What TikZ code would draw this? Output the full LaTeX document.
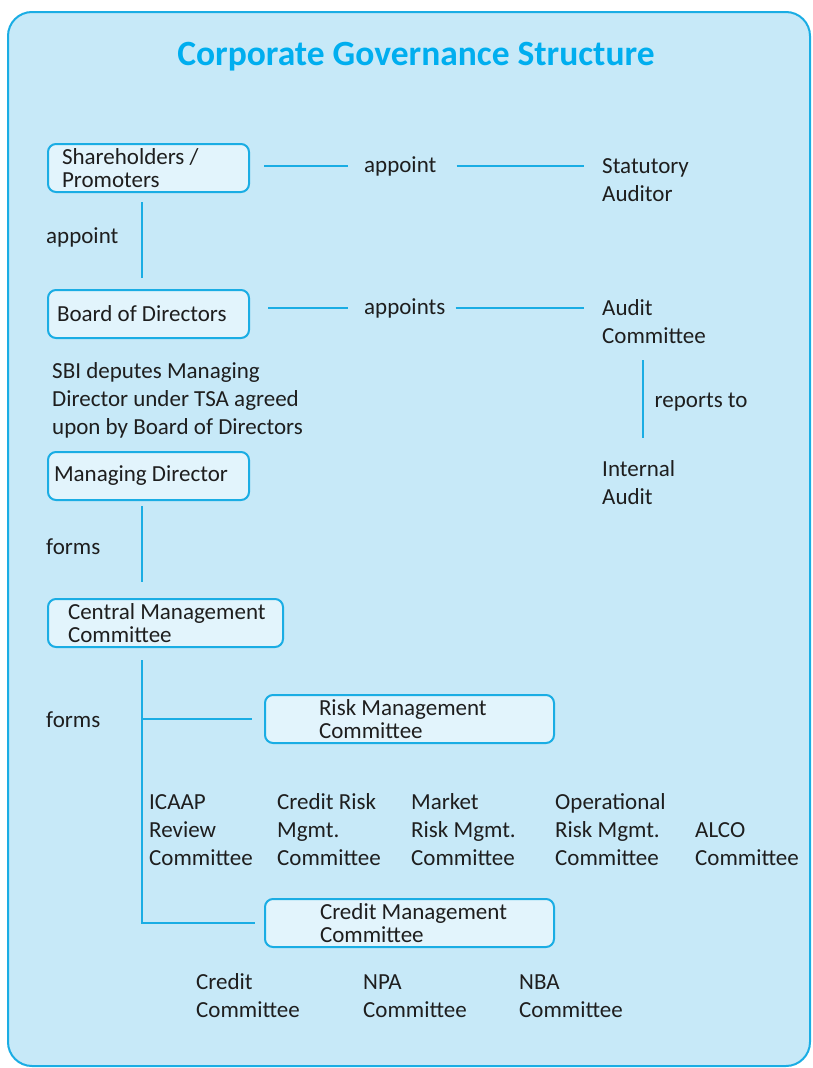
\documentclass[tikz,border=0pt]{standalone}
\usepackage{fontspec}
\setmainfont{Carlito}
\usetikzlibrary{positioning}

\definecolor{govcyan}{HTML}{1AADE4}
\definecolor{govtitle}{HTML}{00AEEF}
\definecolor{govback}{HTML}{C7E9F8}
\definecolor{govfill}{HTML}{E2F4FC}
\definecolor{govtext}{HTML}{1E1E1E}

\begin{document}
\begin{tikzpicture}[x=1pt,y=-1pt,
  every node/.style={inner sep=0pt,text=govtext,font=\fontsize{23}{28}\selectfont}]
\tikzset{GovBox/.style 2 args={draw=govcyan,fill=govfill,line width=2pt,
                               rounded corners=8pt,anchor=north west,
                               minimum height=48pt,align=flush left,
                               inner xsep=#1,text width=#2,
                               font=\fontsize{23}{23}\selectfont},
         GovText/.style={anchor=west,align=left},
         GovLine/.style={draw=govcyan,line width=2pt}}

\useasboundingbox (0,0) rectangle (812,1068);
\draw[govcyan,fill=govback,line width=2pt,rounded corners=24pt] (8,12) rectangle (810,1066);

\node[font=\fontsize{35.5}{40}\selectfont\bfseries,text=govtitle] (title) at (416,57)
     {Corporate Governance Structure};

% main chain
\node[GovBox={14pt}{173pt}] (sh)  at (47,143) {Shareholders /\\Promoters};
\node[GovBox={9pt}{183pt}]  (bod) at (47,289) {Board of Directors};
\node[GovBox={6pt}{189pt}]  (md)  at (47,451) {Managing Director};
\node[GovBox={20pt}{195pt}] (cmc) at (47,598) {\mbox{Central Management}\\Committee};
\node[GovBox={54pt}{181pt}] (rmc) at (264,694) {\mbox{Risk Management}\\Committee};
\node[GovBox={55pt}{179pt}] (cmb) at (264,898) {\mbox{Credit Management}\\Committee};

\node[GovText] (ap1)  at (364,166) {appoint};
\node[GovText] (stat) at (602,180) {Statutory\\Auditor};
\node[GovText] (ap0)  at (46,237)  {appoint};
\node[GovText] (ap2)  at (364,308) {appoints};
\node[GovText] (ac)   at (602,322) {Audit\\Committee};
\node[GovText] (ia)   at (602,483) {Internal\\Audit};
\node[GovText] (sbi)  at (52,400)  {SBI deputes Managing\\Director under TSA agreed\\upon by Board of Directors};
\node[GovText] (fm1)  at (46,547)  {forms};
\node[GovText] (fm2)  at (46,720)  {forms};

% risk committees
\node[GovText] (icaap) at (149,830) {ICAAP\\Review\\Committee};
\node[GovText] (crm)   at (277,830) {Credit Risk\\Mgmt.\\Committee};
\node[GovText] (mrm)   at (411,830) {Market\\Risk Mgmt.\\Committee};
\node[GovText] (orm)   at (555,830) {Operational\\Risk Mgmt.\\Committee};
\node[GovText] (alco)  at (695,844) {ALCO\\Committee};

% credit committees
\node[GovText] (cc)  at (196,996) {Credit\\Committee};
\node[GovText] (npa) at (363,996) {NPA\\Committee};
\node[GovText] (nba) at (519,996) {NBA\\Committee};

\coordinate (trunk) at (142,660);

\draw[GovLine,shorten <=14pt,shorten >=16pt] (sh.east |- ap1.west) -- (ap1.west);
\draw[GovLine,shorten <=20pt,shorten >=18pt] (ap1.east) -- (ap1.east -| stat.west);
\draw[GovLine,shorten <=18pt,shorten >=16pt] (bod.east |- ap2.west) -- (ap2.west);
\draw[GovLine,shorten <=10pt,shorten >=18pt] (ap2.east) -- (ap2.east -| ac.west);

\draw[GovLine,shorten <=9pt,shorten >=11pt] (sh.south -| trunk) -- (bod.north -| trunk);
\draw[GovLine,shorten <=5pt,shorten >=16pt] (md.south -| trunk) -- (cmc.north -| trunk);
\draw[GovLine,shorten <=16pt,shorten >=23pt] ([xshift=4pt]ia.north |- ac.south)
      -- node[right=11pt] (rep) {reports to} ([xshift=4pt]ia.north);

\draw[GovLine] (trunk) |- ([xshift=-9pt]cmb.west);
\draw[GovLine] (trunk |- rmc.west) -- ([xshift=-12pt]rmc.west);
\end{tikzpicture}
\end{document}
